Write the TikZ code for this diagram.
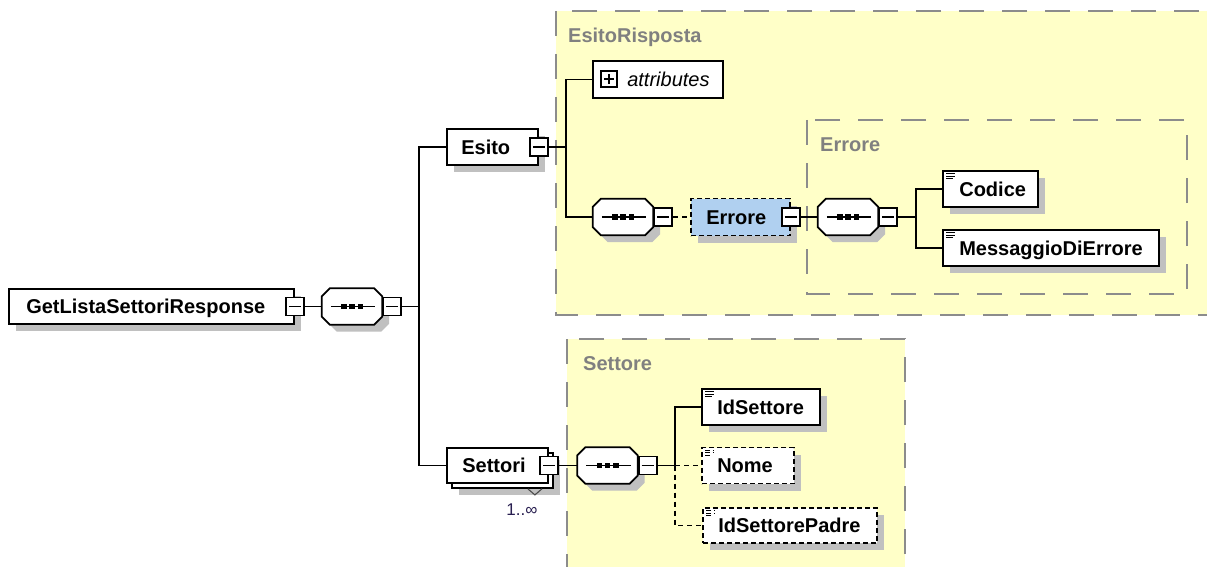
\documentclass[tikz,border=0pt]{standalone}
\usepackage{fontspec}
\setmainfont{Liberation Sans}
\usetikzlibrary{shadows}
\definecolor{grpfill}{RGB}{255,255,200}
\definecolor{grpline}{RGB}{140,140,140}
\definecolor{grptext}{RGB}{128,128,128}
\definecolor{shgrey}{RGB}{192,192,192}
\definecolor{refblue}{RGB}{176,208,240}
\definecolor{occtext}{RGB}{40,30,80}
\tikzset{
  grp/.style={draw=grpline, fill=grpfill, line width=2pt, dash pattern=on 25pt off 18pt},
  grplabel/.style={font=\fontsize{20}{24}\selectfont\bfseries, text=grptext, anchor=base west, inner sep=0pt},
  shad/.style={general shadow={fill=shgrey, shadow xshift=7pt, shadow yshift=-7pt}},
  box/.style={draw, line width=1.8pt, fill=white, rectangle, inner sep=0pt},
  elem/.style={box, shad},
  optelem/.style={elem, dash pattern=on 5pt off 3pt},
  simp/.style={path picture={
    \draw[black, line width=1pt] ([xshift=3pt,yshift=-2.5pt]path picture bounding box.north west) -- ++(9pt,0pt);
    \draw[black, line width=1pt] ([xshift=3pt,yshift=-5pt]path picture bounding box.north west) -- ++(9pt,0pt);
    \draw[black, line width=1pt] ([xshift=3pt,yshift=-7.5pt]path picture bounding box.north west) -- ++(7pt,0pt);}},
  txt/.style={anchor=base west, inner sep=0pt, xshift=#1, yshift=-7pt, font=\fontsize{20}{24}\selectfont\bfseries},
  txt/.default=16pt,
  minusbox/.style={draw, line width=1.8pt, fill=white, minimum size=18pt, inner sep=0pt, rectangle,
    path picture={\draw[black, line width=1.6pt] ([xshift=3pt]path picture bounding box.west) -- ([xshift=-3pt]path picture bounding box.east);}},
  plusbox/.style={draw, line width=1.6pt, fill=white, minimum size=16pt, inner sep=0pt, rectangle,
    path picture={\draw[black, line width=1.5pt] ([xshift=3pt]path picture bounding box.west) -- ([xshift=-3pt]path picture bounding box.east);
      \draw[black, line width=1.5pt] ([yshift=-3pt]path picture bounding box.north) -- ([yshift=3pt]path picture bounding box.south);}},
  seqnode/.style={minimum width=60pt, minimum height=36pt, inner sep=0pt, rectangle},
  conn/.style={line width=1.8pt},
  optconn/.style={line width=1.8pt, dash pattern=on 5pt off 4pt}
}
\newcommand\seqdraw[1]{%
  \fill[shgrey, transform canvas={shift={(7pt,-7pt)}}]
    ([xshift=8pt]#1.north west) -- ([xshift=-8pt]#1.north east) -- ([yshift=-8pt]#1.north east)
    -- ([yshift=8pt]#1.south east) -- ([xshift=-8pt]#1.south east) -- ([xshift=8pt]#1.south west)
    -- ([yshift=8pt]#1.south west) -- ([yshift=-8pt]#1.north west) -- cycle;
  \draw[line width=1.8pt, fill=white]
    ([xshift=8pt]#1.north west) -- ([xshift=-8pt]#1.north east) -- ([yshift=-8pt]#1.north east)
    -- ([yshift=8pt]#1.south east) -- ([xshift=-8pt]#1.south east) -- ([xshift=8pt]#1.south west)
    -- ([yshift=8pt]#1.south west) -- ([yshift=-8pt]#1.north west) -- cycle;
  \draw[line width=1.6pt] ([xshift=9pt]#1.west) -- ([xshift=-7pt]#1.east);
  \fill[black] ([xshift=-11pt,yshift=-2.75pt]#1.center) rectangle ([xshift=-5.5pt,yshift=2.75pt]#1.center);
  \fill[black] ([xshift=-2.75pt,yshift=-2.75pt]#1.center) rectangle ([xshift=2.75pt,yshift=2.75pt]#1.center);
  \fill[black] ([xshift=5.5pt,yshift=-2.75pt]#1.center) rectangle ([xshift=11pt,yshift=2.75pt]#1.center);
}
\begin{document}
\begin{tikzpicture}[x=1pt,y=-1pt]
\useasboundingbox[fill=white] (0,0) rectangle (1207,567);
% groups
\draw[grp] (556,11) rectangle (1240,315);
\draw[grp] (807,120) rectangle (1187,294);
\draw[grp] (567,339) rectangle (905,600);
\node[grplabel] (gEsito) at (568,42.5) {EsitoRisposta};
\node[grplabel] (gErrore) at (820,152) {Errore};
\node[grplabel] (gSettore) at (583,370) {Settore};
% root
\node[elem, minimum width=285pt, minimum height=35pt, label={[txt=18pt]west:GetListaSettoriResponse}] (root) at (151.5,306.5) {};
\node[minusbox] (mroot) at (root.east) {};
\node[seqnode] (seq1) at (352,306.5) {};
\seqdraw{seq1}
\node[minusbox, anchor=west] (mseq1) at (seq1.east) {};
% Esito
\node[elem, minimum width=91pt, minimum height=36pt, label={[txt=15pt]west:Esito}] (esito) at (492.5,147) {};
\node[minusbox] (mesito) at (esito.east) {};
\node[box, minimum width=130pt, minimum height=37pt, label={[txt=35pt, font=\fontsize{20}{24}\selectfont\itshape]west:attributes}] (attr) at (658,79.5) {};
\node[plusbox] (pattr) at (609,79) {};
\node[seqnode] (seq2) at (623,217) {};
\seqdraw{seq2}
\node[minusbox, anchor=west] (mseq2) at (seq2.east) {};
\node[optelem, fill=refblue, minimum width=99pt, minimum height=37pt, label={[txt=16pt]west:Errore}] (errore) at (740.5,217) {};
\node[minusbox] (merrore) at (errore.east) {};
\node[seqnode] (seq3) at (848,217) {};
\seqdraw{seq3}
\node[minusbox, anchor=west] (mseq3) at (seq3.east) {};
\node[elem, simp, minimum width=95pt, minimum height=36pt, label={[txt=17pt]west:Codice}] (codice) at (990.5,189) {};
\node[elem, simp, minimum width=216pt, minimum height=36pt, label={[txt=17pt]west:MessaggioDiErrore}] (messaggio) at (1051,248) {};
% Settori
\node[elem, minimum width=101pt, minimum height=35pt] (settoriB) at (502.5,470.5) {};
\node[box, minimum width=101pt, minimum height=35pt, label={[txt=16pt]west:Settori}] (settori) at (497.5,465.5) {};
\node[minusbox] (msettori) at (settori.east) {};
\draw[line width=1.1pt, draw=black!70] ([xshift=-26pt]settoriB.south east) -- ++(7,6) -- ++(7,-6);
\node[font=\fontsize{17}{20}\selectfont, text=occtext, inner sep=0pt] (occ) at (522,510) {1..∞};
\node[seqnode] (seq4) at (607.5,465.5) {};
\seqdraw{seq4}
\node[minusbox, anchor=west] (mseq4) at (seq4.east) {};
\node[elem, simp, minimum width=118pt, minimum height=36pt, label={[txt=16pt]west:IdSettore}] (idsettore) at (761,407) {};
\node[optelem, simp, minimum width=92pt, minimum height=36pt, label={[txt=16pt]west:Nome}] (nome) at (748,465.5) {};
\node[optelem, simp, minimum width=174pt, minimum height=35pt, label={[txt=16pt]west:IdSettorePadre}] (padre) at (790,525.5) {};
% bus points
\coordinate (b1) at (419,306.5);
\coordinate (b2) at (566,147);
\coordinate (b3) at (916,217);
\coordinate (b4) at (675,465.5);
% connectors
\draw[conn] (mroot.east) -- (seq1.west);
\draw[conn] (mseq1.east) -- (b1);
\draw[conn] (b1) |- (esito.west);
\draw[conn] (b1) |- (settori.west);
\draw[conn] (mesito.east) -- (b2);
\draw[conn] (b2) |- (attr.west);
\draw[conn] (b2) |- (seq2.west);
\draw[optconn] (mseq2.east) -- (errore.west);
\draw[conn] (merrore.east) -- (seq3.west);
\draw[conn] (mseq3.east) -- (b3);
\draw[conn] (b3) |- (codice.west);
\draw[conn] (b3) |- (messaggio.west);
\draw[conn] (msettori.east) -- (seq4.west);
\draw[conn] (mseq4.east) -- (b4);
\draw[conn] (b4) |- (idsettore.west);
\draw[optconn] (b4) -- (nome.west);
\draw[optconn] (b4) |- (padre.west);
\end{tikzpicture}
\end{document}
